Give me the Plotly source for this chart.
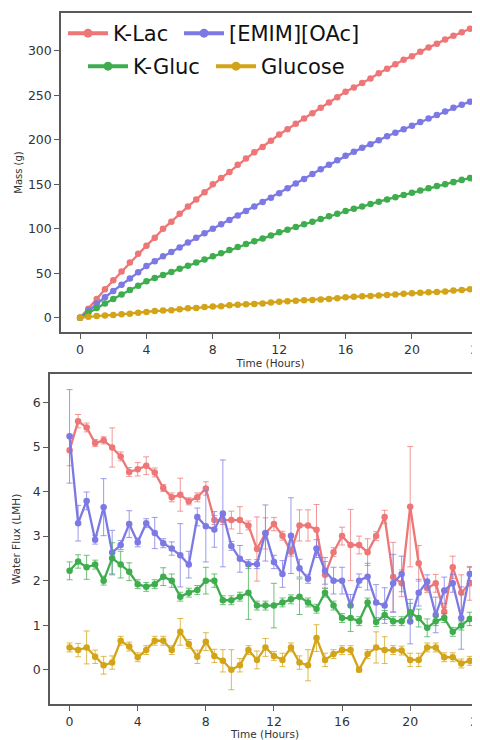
import plotly.graph_objects as go

# ---------------- data ----------------
time_h = [0, 0.5, 1, 1.5, 2, 2.5, 3, 3.5, 4, 4.5, 5, 5.5, 6, 6.5, 7, 7.5,
          8, 8.5, 9, 9.5, 10, 10.5, 11, 11.5, 12, 12.5, 13, 13.5, 14, 14.5, 15, 15.5,
          16, 16.5, 17, 17.5, 18, 18.5, 19, 19.5, 20, 20.5, 21, 21.5, 22, 22.5, 23, 23.5]

series_names = ["K-Lac", "[EMIM][OAc]", "K-Gluc", "Glucose"]

# cumulative mass (g)
mass_klac = [0, 10, 21, 32, 42, 52, 62, 72, 81, 90, 100, 108, 117, 125, 133, 141,
             150, 157, 164, 172, 179, 186, 192, 199, 206, 212, 218, 224, 230, 236, 242, 248,
             254, 259, 264, 269, 275, 280, 285, 290, 294, 299, 304, 308, 313, 317, 321, 325]
mass_emim = [0, 8, 16, 23, 30, 37, 44, 51, 58, 63.5, 69, 74, 79, 84.5, 90, 95,
             100, 105, 110, 115, 120, 125, 130, 135, 140, 145.5, 151, 156, 161.5, 167, 172, 177,
             182, 186.5, 191, 195, 199.5, 204, 208, 212, 216, 220, 224, 228, 232, 236, 239.5, 243]
mass_kgluc = [0, 5.5, 11, 16, 21, 26, 31, 36, 41, 44.5, 48, 51.5, 55, 58.5, 62, 65.5,
              69, 72.5, 76, 79.5, 83, 86, 89, 92.5, 96, 99, 102, 105, 108, 111, 114, 117,
              120, 122.5, 125, 128, 130.5, 133, 135.5, 138, 140.5, 143, 145.5, 148, 150, 152.5, 155, 157]
mass_gluc = [0, 1, 2, 2.5, 3, 4, 4.5, 5.5, 6.5, 7.5, 8, 8.5, 9.5, 10.5, 11, 12,
             12.5, 13, 14, 14.5, 15, 15.5, 16, 17, 18, 18.5, 19, 19.5, 20, 20.5, 21, 22,
             23, 23.5, 24, 24.5, 25, 25.5, 26, 27, 27.5, 28, 28.5, 29, 29.5, 30.5, 31, 32]

mass_err_klac = [0, 1, 1, 1, 1, 1, 1, 1, 1, 1, 1, 1, 1, 1, 1, 1,
                 1, 1, 1, 1, 1, 1, 1, 1, 1, 1, 1, 1, 1, 1, 1, 1,
                 1, 1, 1, 1, 1, 1, 1, 1, 1, 1, 1, 1, 1, 1, 1, 1]
mass_err_emim = [0, 1, 1, 1, 1, 1, 1, 1, 1, 1, 1, 1, 1, 1, 1, 1,
                 1, 1, 1, 1, 1, 1, 1, 1, 1, 1, 1, 1, 1, 1, 1, 1,
                 1, 1, 1, 1, 1, 1, 1, 1, 1, 1, 1, 1, 1, 1, 1, 1.5]
mass_err_kgluc = [0, 1, 1, 1, 1, 1, 1, 1, 1, 1, 1, 1, 1, 1, 1, 1,
                  1, 1, 1, 1, 1, 1, 1, 1, 1, 1, 1, 1, 1, 1, 1, 1.5,
                  1.5, 1.5, 1.5, 1.5, 2, 2, 2, 2, 2, 2, 2.5, 2.5, 2.5, 3, 3, 3]
mass_err_gluc = [0, 0.5, 0.5, 0.5, 0.5, 0.5, 0.5, 0.5, 0.5, 0.5, 0.5, 0.5, 0.5, 0.5, 0.5, 0.5,
                 0.5, 0.5, 0.5, 0.5, 0.5, 0.5, 0.5, 0.5, 0.5, 0.5, 0.5, 0.5, 0.5, 0.5, 0.5, 0.5,
                 0.5, 0.5, 0.5, 0.5, 0.5, 0.5, 0.5, 0.5, 0.5, 0.5, 0.5, 0.5, 0.5, 1, 1, 1]

# water flux (LMH)
flux_klac = [4.93, 5.58, 5.44, 5.09, 5.15, 4.99, 4.79, 4.44, 4.50, 4.58, 4.43, 4.08, 3.87, 3.93, 3.78, 3.87,
             4.07, 3.36, 3.36, 3.36, 3.36, 3.24, 2.71, 3.06, 3.27, 3.01, 2.65, 3.24, 3.24, 3.14, 2.13, 2.64,
             3.00, 2.80, 2.80, 2.64, 3.00, 3.43, 2.08, 1.94, 3.66, 2.39, 1.83, 1.94, 1.30, 2.30, 1.73, 1.94]
flux_emim = [5.24, 3.29, 3.79, 2.92, 3.65, 2.63, 2.80, 3.27, 2.86, 3.29, 3.07, 2.84, 2.72, 2.57, 2.36, 3.43,
             3.22, 3.15, 3.51, 2.78, 2.49, 2.37, 2.37, 3.07, 2.42, 2.15, 3.01, 2.28, 2.04, 2.72, 2.22, 2.00,
             2.00, 1.44, 2.00, 2.09, 1.51, 1.44, 1.94, 2.15, 1.08, 1.73, 1.98, 1.23, 1.78, 1.94, 1.16, 2.15]
flux_kgluc = [2.22, 2.43, 2.30, 2.36, 2.00, 2.50, 2.36, 2.20, 1.92, 1.86, 1.92, 2.09, 2.00, 1.64, 1.73, 1.79,
              2.00, 2.00, 1.56, 1.56, 1.64, 1.73, 1.44, 1.44, 1.44, 1.51, 1.58, 1.64, 1.51, 1.37, 1.73, 1.44,
              1.16, 1.16, 1.09, 1.51, 1.07, 1.23, 1.09, 1.09, 1.29, 1.16, 0.94, 1.09, 1.16, 0.85, 0.99, 1.14]
flux_gluc = [0.50, 0.44, 0.50, 0.29, 0.10, 0.16, 0.65, 0.52, 0.28, 0.44, 0.65, 0.65, 0.44, 0.85, 0.58, 0.29,
             0.63, 0.31, 0.20, 0.00, 0.10, 0.44, 0.22, 0.50, 0.31, 0.22, 0.50, 0.16, 0.10, 0.71, 0.22, 0.35,
             0.44, 0.44, 0.00, 0.35, 0.50, 0.44, 0.44, 0.43, 0.22, 0.22, 0.50, 0.50, 0.28, 0.28, 0.14, 0.20]

flux_err_klac = [0.35, 0.15, 0.10, 0.08, 0.08, 0.44, 0.10, 0.10, 0.15, 0.20, 0.10, 0.08, 0.10, 0.37, 0.08, 0.10,
                 0.15, 0.10, 0.10, 0.20, 0.30, 0.10, 0.72, 0.35, 0.15, 0.10, 0.10, 0.35, 0.35, 0.57, 0.30, 0.10,
                 0.20, 0.80, 0.20, 0.30, 0.10, 0.15, 0.78, 0.30, 1.35, 0.40, 0.10, 0.20, 0.10, 0.25, 0.40, 0.38]
flux_err_emim = [1.05, 0.40, 0.20, 0.10, 0.64, 0.50, 0.10, 0.30, 0.10, 0.10, 0.35, 0.10, 0.15, 0.71, 0.30, 0.20,
                 0.80, 0.40, 1.20, 0.10, 0.30, 0.10, 0.10, 0.63, 0.15, 0.30, 0.85, 0.20, 0.10, 0.20, 0.30, 0.30,
                 0.30, 0.25, 0.15, 0.30, 0.40, 0.40, 0.65, 0.40, 0.50, 0.30, 0.15, 0.40, 0.30, 0.20, 0.70, 0.15]
flux_err_kgluc = [0.20, 0.15, 0.27, 0.10, 0.10, 0.35, 0.30, 0.20, 0.10, 0.10, 0.10, 0.20, 0.15, 0.10, 0.10, 0.10,
                  0.30, 0.15, 0.10, 0.10, 0.10, 0.60, 0.10, 0.10, 0.50, 0.10, 0.10, 0.40, 0.10, 0.10, 0.10, 0.10,
                  0.10, 0.30, 0.10, 0.10, 0.10, 0.10, 0.10, 0.10, 0.20, 0.20, 0.20, 0.10, 0.10, 0.10, 0.10, 0.15]
flux_err_gluc = [0.10, 0.15, 0.37, 0.15, 0.20, 0.15, 0.10, 0.10, 0.10, 0.10, 0.10, 0.10, 0.10, 0.30, 0.10, 0.15,
                 0.20, 0.15, 0.25, 0.45, 0.15, 0.10, 0.20, 0.20, 0.10, 0.15, 0.10, 0.15, 0.35, 0.30, 0.15, 0.10,
                 0.10, 0.10, 0.05, 0.10, 0.35, 0.30, 0.10, 0.10, 0.15, 0.15, 0.10, 0.10, 0.10, 0.10, 0.10, 0.10]

x_ticks = [0, 4, 8, 12, 16, 20, 24]
mass_ticks = [0, 50, 100, 150, 200, 250, 300]
flux_ticks = [0, 1, 2, 3, 4, 5, 6]

# ---------------- style ----------------
colors = ["#EE7676", "#7C79E4", "#3EAD4E", "#D3A417"]
err_colors = ["rgba(238,118,118,0.75)", "rgba(124,121,228,0.75)",
              "rgba(62,173,78,0.75)", "rgba(211,164,23,0.75)"]
FONT = "DejaVu Sans"
OFF = 8                     # page body margin of the browser
W, H = 480 - OFF, 740 - OFF


def fx(s):  # screen x px -> paper fraction
    return (s - OFF) / W


def fy(s):  # screen y px -> paper fraction
    return 1 - (s - OFF) / H


fig = go.Figure()

mass_series = [mass_klac, mass_emim, mass_kgluc, mass_gluc]
mass_errs = [mass_err_klac, mass_err_emim, mass_err_kgluc, mass_err_gluc]
flux_series = [flux_klac, flux_emim, flux_kgluc, flux_gluc]
flux_errs = [flux_err_klac, flux_err_emim, flux_err_kgluc, flux_err_gluc]
legend_ids = ["legend", "legend2", "legend3", "legend4"]
# legend item positions on screen (left x px, top y px)
legend_pos = [(63, 13), (179, 13), (83, 46), (211, 46)]

for i, name in enumerate(series_names):
    fig.add_trace(go.Scatter(
        x=time_h, y=mass_series[i], name=name, mode="lines+markers",
        line=dict(color=colors[i], width=2.3),
        marker=dict(color=colors[i], size=6.5),
        error_y=dict(type="data", array=mass_errs[i], color=err_colors[i], thickness=1, width=2),
        xaxis="x", yaxis="y", showlegend=False,
    ))
for i, name in enumerate(series_names):
    fig.add_trace(go.Scatter(
        x=time_h, y=flux_series[i], name=name, mode="lines+markers",
        line=dict(color=colors[i], width=2.3),
        marker=dict(color=colors[i], size=6.5),
        error_y=dict(type="data", array=flux_errs[i], color=err_colors[i], thickness=1, width=3),
        xaxis="x2", yaxis="y2", showlegend=False,
    ))
# legend entries (thicker handles, as in the reference legend)
for i, name in enumerate(series_names):
    fig.add_trace(go.Scatter(
        x=[None], y=[None], name=name, mode="lines+markers",
        line=dict(color=colors[i], width=4),
        marker=dict(color=colors[i], size=9),
        xaxis="x", yaxis="y", legend=legend_ids[i], showlegend=True,
    ))

axis_common = dict(
    showgrid=False, zeroline=False, showline=True, linecolor="#5a5a5a", linewidth=1.5,
    ticks="outside", ticklen=5, tickwidth=1.2, tickcolor="#5a5a5a", automargin=False,
    tickfont=dict(family=FONT, size=12.5, color="#333333"),
)

legends = {}
for i, lid in enumerate(legend_ids):
    lx, ly = legend_pos[i]
    legends[lid] = dict(orientation="h", x=fx(lx), y=fy(ly), xanchor="left", yanchor="top",
                        bgcolor="rgba(0,0,0,0)", font=dict(family=FONT, size=21, color="#111111"),
                        itemwidth=40)

fig.update_layout(
    width=W, height=H,
    margin=dict(l=0, r=0, t=0, b=0, autoexpand=False),
    paper_bgcolor="white", plot_bgcolor="white",
    font=dict(family=FONT),
    xaxis=dict(axis_common, domain=[fx(61), 1], range=[-1.15, 24.1], tickvals=x_ticks,
               mirror=True, anchor="y", ticklabeloverflow="allow",
               title=dict(text="Time (Hours)", font=dict(family=FONT, size=10.5, color="#333333"), standoff=3)),
    yaxis=dict(axis_common, domain=[fy(332), fy(13)], range=[-16.1, 342.7], tickvals=mass_ticks,
               anchor="x",
               title=dict(text="Mass (g)", font=dict(family=FONT, size=10, color="#333333"), standoff=3)),
    xaxis2=dict(axis_common, domain=[fx(50), 1], range=[-1.15, 24.1], tickvals=x_ticks,
                mirror=True, anchor="y2", ticklabeloverflow="allow",
                title=dict(text="Time (Hours)", font=dict(family=FONT, size=10.5, color="#333333"), standoff=3)),
    yaxis2=dict(axis_common, domain=[fy(704), fy(374)], range=[-0.77, 6.64], tickvals=flux_ticks,
                anchor="x2",
                title=dict(text="Water Flux (LMH)", font=dict(family=FONT, size=10.5, color="#333333"), standoff=10)),
    **legends,
)

fig.write_html("out.html")
